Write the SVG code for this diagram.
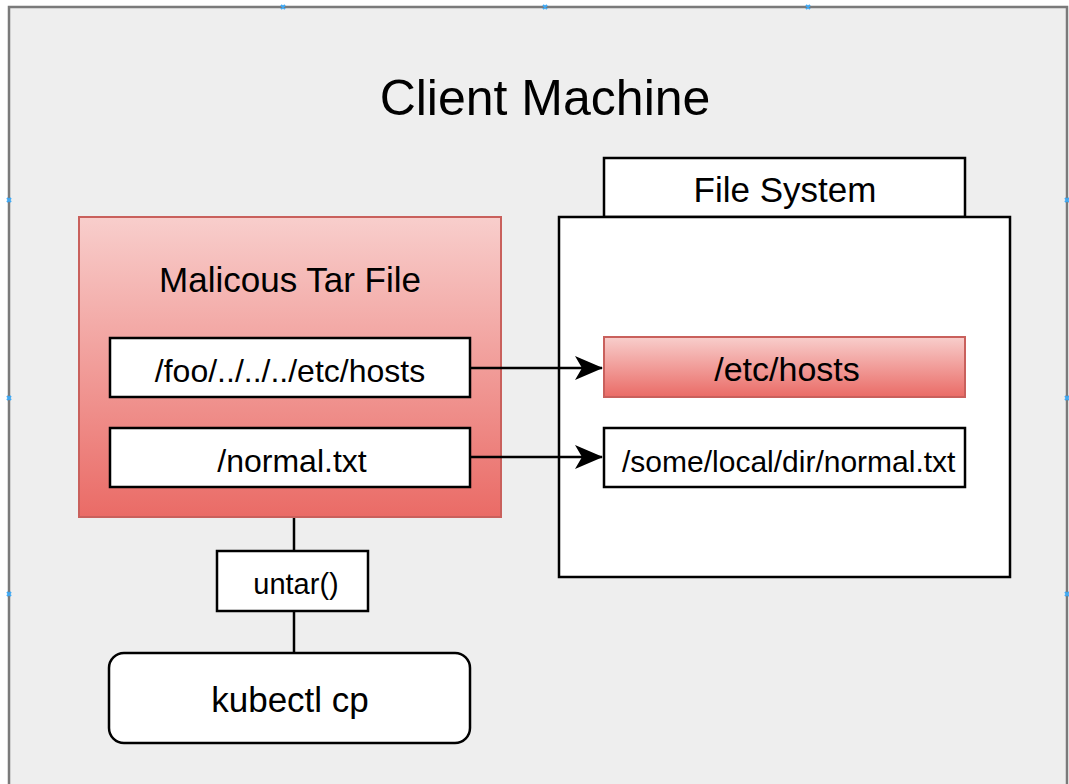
<svg xmlns="http://www.w3.org/2000/svg" width="1069" height="784" viewBox="0 0 1069 784">
<defs>
<linearGradient id="red" x1="0" y1="0" x2="0" y2="1">
<stop offset="0" stop-color="#f8cecc"/>
<stop offset="1" stop-color="#ea6b66"/>
</linearGradient>
<marker id="arr" viewBox="0 0 28 26" refX="27" refY="13" markerWidth="28" markerHeight="26" markerUnits="userSpaceOnUse" orient="auto">
<path d="M0,1 L28,13 L0,25 L7,13 Z" fill="#000"/>
</marker>
</defs>
<style>
text{font-family:"Liberation Sans",Arial,sans-serif;fill:#000;text-anchor:middle}
.box{fill:#fff;stroke:#000;stroke-width:2.5}
.redbox{fill:url(#red);stroke:#c9605c;stroke-width:2}
.conn{fill:none;stroke:#000;stroke-width:2.5}
.handle{stroke:#3fa9f5;stroke-width:2}
</style>
<rect x="0" y="0" width="1069" height="784" fill="#fff"/>
<g id="client-machine">
<rect x="9" y="7" width="1058" height="790" fill="#eeeeee" stroke="#7a7a7a" stroke-width="2.5"/>
<text x="545" y="115" font-size="50">Client Machine</text>
</g>
<g id="handles">
<path class="handle" d="M281,5 L285,9 M285,5 L281,9 M543,5 L547,9 M547,5 L543,9 M806,5 L810,9 M810,5 L806,9"/>
<path class="handle" d="M7,198 L11,202 M11,198 L7,202 M7,396 L11,400 M11,396 L7,400 M7,592 L11,596 M11,592 L7,596"/>
<path class="handle" d="M1065,198 L1069,202 M1069,198 L1065,202 M1065,396 L1069,400 M1069,396 L1065,400 M1065,592 L1069,596 M1069,592 L1065,596"/>
</g>
<g id="tar-file">
<rect class="redbox" x="79" y="217" width="422" height="300"/>
<text x="290" y="292" font-size="35">Malicous Tar File</text>
</g>
<g id="tar-entry-hosts">
<rect class="box" x="110" y="338" width="360" height="59"/>
<text x="290" y="382" font-size="32">/foo/../../../etc/hosts</text>
</g>
<g id="tar-entry-normal">
<rect class="box" x="110" y="428" width="360" height="59"/>
<text x="292" y="472" font-size="32">/normal.txt</text>
</g>
<g id="file-system">
<rect class="box" x="604" y="158" width="361" height="59"/>
<text x="785" y="202" font-size="35">File System</text>
<rect class="box" x="559" y="217" width="451" height="360"/>
</g>
<g id="fs-hosts">
<rect class="redbox" x="604" y="337" width="361" height="60"/>
<text x="787" y="381" font-size="34">/etc/hosts</text>
</g>
<g id="fs-normal">
<rect class="box" x="604" y="428" width="361" height="59"/>
<text x="622" y="472" font-size="30" style="text-anchor:start">/some/local/dir/normal.txt</text>
</g>
<g id="untar">
<rect class="box" x="217" y="551" width="151" height="60"/>
<text x="296" y="594" font-size="29">untar()</text>
</g>
<g id="kubectl-cp">
<rect class="box" x="109" y="653" width="361" height="90" rx="15" ry="15"/>
<text x="290" y="712" font-size="35">kubectl cp</text>
</g>
<g id="connectors">
<path class="conn" d="M470,368 L602,368" marker-end="url(#arr)"/>
<path class="conn" d="M470,457 L602,457" marker-end="url(#arr)"/>
<path class="conn" d="M294,518 L294,551"/>
<path class="conn" d="M294,611 L294,653"/>
</g>
</svg>
